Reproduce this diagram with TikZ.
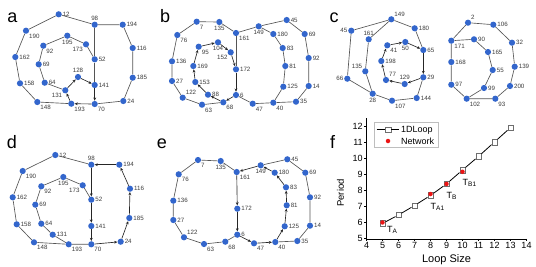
\documentclass[tikz,border=0pt]{standalone}
\usepackage{fontspec}
\setmainfont{Liberation Sans}
\usetikzlibrary{arrows.meta}
\definecolor{nodeblue}{RGB}{51,102,204}
\definecolor{edgegray}{RGB}{85,85,85}
\definecolor{lblgray}{RGB}{60,60,60}
\definecolor{netred}{RGB}{235,20,20}
\definecolor{mkgray}{RGB}{110,110,110}
\definecolor{legframe}{RGB}{190,190,190}
\tikzset{
  vtx/.style={circle, fill=nodeblue, minimum size=6.2pt, inner sep=0pt},
  every label/.style={font=\fontsize{6.2}{6.2}\selectfont, text=lblgray, inner sep=0.6pt},
  link/.style={color=edgegray, line width=0.65pt},
  flow/.style={-{Stealth[length=3.2pt,width=2.8pt]}, line width=0.65pt, color=black!85},
  panel/.style={font=\fontsize{18}{18}\selectfont, anchor=base west, inner sep=0pt},
  axisline/.style={line width=0.6pt, color=black},
  ticklbl/.style={font=\fontsize{9}{9}\selectfont, inner sep=1pt},
  sqmark/.style={rectangle, draw=mkgray, fill=white, minimum size=5.5pt,
    inner sep=0pt, line width=0.5pt},
  netdot/.style={circle, fill=netred, minimum size=4.5pt, inner sep=0pt},
  curve/.style={line width=0.8pt, color=black},
  tlab/.style={font=\fontsize{9}{9}\selectfont, anchor=west, inner sep=0pt},
  legtxt/.style={font=\fontsize{9}{9}\selectfont, anchor=west, inner sep=0pt}
}
\newcommand{\tsub}[1]{\raisebox{-0.8pt}{\fontsize{6.5}{6.5}\selectfont #1}}

\begin{document}
\begin{tikzpicture}[x=1pt, y=-1pt]
  \useasboundingbox (0,0) rectangle (536,266);

  % panel letters
  \node[panel] (pa) at (7.3,22.5)   {a};
  \node[panel] (pb) at (160,22.5)   {b};
  \node[panel] (pc) at (329.5,22.5) {c};
  \node[panel] (pd) at (6.7,148.5)  {d};
  \node[panel] (pe) at (156.7,148.5){e};
  \node[panel] (pf) at (330,148.5)  {f};

  % panel a
  \node[vtx, label={right:12}]        (a12)  at (58.7,14.3)  {};
  \node[vtx, label={above:98}]        (a98)  at (94.7,24.7)  {};
  \node[vtx, label={right:194}]       (a194) at (122.7,24.7) {};
  \node[vtx, label={below right:190}] (a190) at (26,30.7)    {};
  \node[vtx, label={right:162}]       (a162) at (15.3,57)    {};
  \node[vtx, label={right:158}]       (a158) at (20,83.3)    {};
  \node[vtx, label={below right:148}] (a148) at (37.3,102)   {};
  \node[vtx, label={below right:193}] (a193) at (71.3,103.7) {};
  \node[vtx, label={below right:70}]  (a70)  at (94.7,104)   {};
  \node[vtx, label={right:24}]        (a24)  at (123.3,101)  {};
  \node[vtx, label={right:185}]       (a185) at (132.7,77.7) {};
  \node[vtx, label={right:116}]       (a116) at (132.7,48)   {};
  \node[vtx, label={right:52}]        (a52)  at (94.7,59.3)  {};
  \node[vtx, label={right:141}]       (a141) at (94.7,85)    {};
  \node[vtx, label={below:195}]       (a195) at (67.3,35.7)  {};
  \node[vtx, label={below right:92}]  (a92)  at (43.3,45.7)  {};
  \node[vtx, label={below left:173}]  (a173) at (86,44.3)    {};
  \node[vtx, label={right:69}]        (a69)  at (38.7,64.3)  {};
  \node[vtx, label={right:64}]        (a64)  at (44.7,82.7)  {};
  \node[vtx, label={above:128}]       (a128) at (78,77)      {};
  \node[vtx, label={below left:131}]  (a131) at (65.3,90.3)  {};
  \draw[link] (a70) -- (a24) -- (a185) -- (a116) -- (a194) -- (a98) -- (a12)
    -- (a190) -- (a162) -- (a158) -- (a148) -- (a193);
  \draw[link] (a98) -- (a52) -- (a141);
  \draw[link] (a52) -- (a173) -- (a195) -- (a92) -- (a69) -- (a64) -- (a131);
  \draw[flow] (a131) -- (a128);
  \draw[flow] (a128) -- (a141);
  \draw[flow] (a141) -- (a70);
  \draw[flow] (a70) -- (a193);
  \draw[flow] (a193) -- (a131);

  % panel d
  \node[vtx, label={right:12}]        (d12)  at (55.3,155)   {};
  \node[vtx, label={above:98}]        (d98)  at (91.3,164.7) {};
  \node[vtx, label={right:194}]       (d194) at (119.3,164.7){};
  \node[vtx, label={below right:190}] (d190) at (22.7,171)   {};
  \node[vtx, label={right:162}]       (d162) at (12.7,197.3) {};
  \node[vtx, label={right:158}]       (d158) at (16.7,224.3) {};
  \node[vtx, label={below right:148}] (d148) at (34,242.3)   {};
  \node[vtx, label={below right:193}] (d193) at (68.7,244.3) {};
  \node[vtx, label={below right:70}]  (d70)  at (91.3,244.3) {};
  \node[vtx, label={right:24}]        (d24)  at (120.7,241.7){};
  \node[vtx, label={right:185}]       (d185) at (129.3,218)  {};
  \node[vtx, label={right:116}]       (d116) at (130,188.7)  {};
  \node[vtx, label={right:52}]        (d52)  at (91.3,199.7) {};
  \node[vtx, label={right:141}]       (d141) at (91.3,226)   {};
  \node[vtx, label={below:195}]       (d195) at (63.3,177)   {};
  \node[vtx, label={below right:92}]  (d92)  at (41.3,186.3) {};
  \node[vtx, label={below left:173}]  (d173) at (82.7,185.3) {};
  \node[vtx, label={right:69}]        (d69)  at (35.3,204.7) {};
  \node[vtx, label={right:64}]        (d64)  at (41.3,223.7) {};
  \node[vtx, label={right:131}]       (d131) at (52.7,234.7) {};
  \draw[link] (d98) -- (d12) -- (d190) -- (d162) -- (d158) -- (d148) -- (d193) -- (d70);
  \draw[link] (d52) -- (d173) -- (d195) -- (d92) -- (d69) -- (d64) -- (d131) -- (d193);
  \draw[flow] (d98) -- (d52);
  \draw[flow] (d52) -- (d141);
  \draw[flow] (d141) -- (d70);
  \draw[flow] (d70) -- (d24);
  \draw[flow] (d24) -- (d185);
  \draw[flow] (d185) -- (d116);
  \draw[flow] (d116) -- (d194);
  \draw[flow] (d194) -- (d98);

  % panel b
  \node[vtx, label={below right:7}]   (b7)   at (196.7,21.7) {};
  \node[vtx, label={below:135}]       (b135) at (219.3,22)   {};
  \node[vtx, label={below right:161}] (b161) at (236,33)     {};
  \node[vtx, label={below:149}]       (b149) at (258.7,26.3) {};
  \node[vtx, label={right:45}]        (b45)  at (286.7,20)   {};
  \node[vtx, label={right:180}]       (b180) at (273.3,34)   {};
  \node[vtx, label={right:69}]        (b69)  at (304.7,34)   {};
  \node[vtx, label={right:83}]        (b83)  at (282.7,48)   {};
  \node[vtx, label={right:92}]        (b92)  at (308.7,58)   {};
  \node[vtx, label={right:81}]        (b81)  at (285.3,66)   {};
  \node[vtx, label={right:125}]       (b125) at (283.3,86.7) {};
  \node[vtx, label={right:14}]        (b14)  at (308.7,86)   {};
  \node[vtx, label={right:35}]        (b35)  at (296,101.7)  {};
  \node[vtx, label={below right:40}]  (b40)  at (273.3,102.7){};
  \node[vtx, label={below right:47}]  (b47)  at (252.7,103.7){};
  \node[vtx, label={right:6}]         (b6)   at (236,95)     {};
  \node[vtx, label={below right:68}]  (b68)  at (223.3,102.3){};
  \node[vtx, label={below right:63}]  (b63)  at (202,104.7)  {};
  \node[vtx, label={above right:122}] (b122) at (182.7,97.7) {};
  \node[vtx, label={right:27}]        (b27)  at (172,81)     {};
  \node[vtx, label={right:136}]       (b136) at (172,61.3)   {};
  \node[vtx, label={below right:76}]  (b76)  at (177.3,35)   {};
  \node[vtx, label={right:172}]       (b172) at (236,69.3)   {};
  \node[vtx, label={below right:95}]  (b95)  at (198.7,46.7) {};
  \node[vtx, label={below:104}]       (b104) at (218,42.3)   {};
  \node[vtx, label={below left:152}]  (b152) at (230.7,52.3) {};
  \node[vtx, label={right:169}]       (b169) at (193.3,66)   {};
  \node[vtx, label={right:153}]       (b153) at (195.3,82)   {};
  \node[vtx, label={right:88}]        (b88)  at (208,94.7)   {};
  \draw[link] (b6) -- (b47) -- (b40) -- (b35) -- (b14) -- (b92) -- (b69) -- (b45)
    -- (b149) -- (b161) -- (b135) -- (b7) -- (b76) -- (b136) -- (b27) -- (b122)
    -- (b63) -- (b68);
  \draw[link] (b149) -- (b180) -- (b83) -- (b81) -- (b125) -- (b40);
  \draw[link] (b161) -- (b172);
  \draw[flow] (b172) -- (b6);
  \draw[flow] (b6) -- (b68);
  \draw[flow] (b68) -- (b88);
  \draw[flow] (b88) -- (b153);
  \draw[flow] (b153) -- (b169);
  \draw[flow] (b169) -- (b95);
  \draw[flow] (b95) -- (b104);
  \draw[flow] (b104) -- (b152);
  \draw[flow] (b152) -- (b172);

  % panel e
  \node[vtx, label={below right:7}]   (e7)   at (198,160)    {};
  \node[vtx, label={below:135}]       (e135) at (220.7,161)  {};
  \node[vtx, label={below right:161}] (e161) at (236.7,172)  {};
  \node[vtx, label={below:149}]       (e149) at (260.7,165.3){};
  \node[vtx, label={right:45}]        (e45)  at (287.3,159.3){};
  \node[vtx, label={right:180}]       (e180) at (274.7,172.7){};
  \node[vtx, label={right:69}]        (e69)  at (305.3,172.7){};
  \node[vtx, label={right:83}]        (e83)  at (286,187.3)  {};
  \node[vtx, label={right:92}]        (e92)  at (310,197.3)  {};
  \node[vtx, label={right:81}]        (e81)  at (286.7,205.3){};
  \node[vtx, label={right:125}]       (e125) at (284.7,226.3){};
  \node[vtx, label={right:14}]        (e14)  at (310,225.7)  {};
  \node[vtx, label={right:35}]        (e35)  at (297.3,241)  {};
  \node[vtx, label={below right:40}]  (e40)  at (275.3,242)  {};
  \node[vtx, label={below right:47}]  (e47)  at (254,243.3)  {};
  \node[vtx, label={right:6}]         (e6)   at (237.3,234.7){};
  \node[vtx, label={below right:68}]  (e68)  at (225.3,241.7){};
  \node[vtx, label={below right:63}]  (e63)  at (204,244)    {};
  \node[vtx, label={above right:122}] (e122) at (184,237.3)  {};
  \node[vtx, label={right:27}]        (e27)  at (173.3,220)  {};
  \node[vtx, label={right:136}]       (e136) at (173.3,200.7){};
  \node[vtx, label={below right:76}]  (e76)  at (178.7,174.3){};
  \node[vtx, label={right:172}]       (e172) at (237.3,208.7){};
  \draw[link] (e161) -- (e135) -- (e7) -- (e76) -- (e136) -- (e27) -- (e122)
    -- (e63) -- (e68) -- (e6);
  \draw[link] (e149) -- (e45) -- (e69) -- (e92) -- (e14) -- (e35) -- (e40);
  \draw[flow] (e161) -- (e172);
  \draw[flow] (e172) -- (e6);
  \draw[flow] (e6) -- (e47);
  \draw[flow] (e47) -- (e40);
  \draw[flow] (e40) -- (e125);
  \draw[flow] (e125) -- (e81);
  \draw[flow] (e81) -- (e83);
  \draw[flow] (e83) -- (e180);
  \draw[flow] (e180) -- (e149);
  \draw[flow] (e149) -- (e161);

  % panel c
  \node[vtx, label={left:45}]         (c45)  at (351.3,30.7) {};
  \node[vtx, label={above right:149}] (c149) at (391.3,19.3) {};
  \node[vtx, label={right:180}]       (c180) at (414.7,28.3) {};
  \node[vtx, label={above:161}]       (c161) at (368.7,39.3) {};
  \node[vtx, label={right:65}]        (c65)  at (423.3,50)   {};
  \node[vtx, label={below right:41}]  (c41)  at (387.3,45.3) {};
  \node[vtx, label={below:50}]        (c50)  at (405.3,42)   {};
  \node[vtx, label={right:198}]       (c198) at (381.3,61)   {};
  \node[vtx, label={above left:135}]  (c135) at (365.3,71.3) {};
  \node[vtx, label={left:66}]         (c66)  at (347.3,78.7) {};
  \node[vtx, label={above right:77}]  (c77)  at (386,80)     {};
  \node[vtx, label={above:129}]       (c129) at (404.7,84)   {};
  \node[vtx, label={right:29}]        (c29)  at (423.3,77.3) {};
  \node[vtx, label={below:28}]        (c28)  at (372.7,93.7) {};
  \node[vtx, label={below right:107}] (c107) at (392,100.7)  {};
  \node[vtx, label={right:144}]       (c144) at (416.7,98)   {};
  \draw[link] (c65) -- (c180) -- (c149) -- (c45) -- (c66) -- (c28) -- (c107)
    -- (c144) -- (c29);
  \draw[link] (c149) -- (c161) -- (c135) -- (c28);
  \draw[flow] (c41) -- (c50);
  \draw[flow] (c50) -- (c65);
  \draw[flow] (c65) -- (c29);
  \draw[flow] (c29) -- (c129);
  \draw[flow] (c129) -- (c77);
  \draw[flow] (c77) -- (c198);
  \draw[flow] (c198) -- (c41);

  \node[vtx, label={above right:2}]   (c2)   at (468,22.7)   {};
  \node[vtx, label={right:106}]       (c106) at (493.3,24.7) {};
  \node[vtx, label={right:32}]        (c32)  at (512,42.7)   {};
  \node[vtx, label={right:139}]       (c139) at (514.7,66.7) {};
  \node[vtx, label={right:200}]       (c200) at (510,86)     {};
  \node[vtx, label={below right:93}]  (c93)  at (495.3,98.7) {};
  \node[vtx, label={below right:102}] (c102) at (466.7,98.7) {};
  \node[vtx, label={right:97}]        (c97)  at (451.3,84.7) {};
  \node[vtx, label={right:168}]       (c168) at (451.3,62)   {};
  \node[vtx, label={below right:171}] (c171) at (451.3,40.7) {};
  \node[vtx, label={right:90}]        (c90)  at (474,39.3)   {};
  \node[vtx, label={right:165}]       (c165) at (488,52)     {};
  \node[vtx, label={right:55}]        (c55)  at (492.7,70)   {};
  \node[vtx, label={right:99}]        (c99)  at (484,88)     {};
  \draw[link] (c2) -- (c106) -- (c32) -- (c139) -- (c200) -- (c93) -- (c102)
    -- (c97) -- (c168) -- (c171) -- (c2);
  \draw[link] (c171) -- (c90) -- (c165) -- (c55) -- (c99) -- (c102);

  % panel f
  \begin{scope}[shift={(302.5,318)}, x=16pt, y=16pt]
    \coordinate (ytop) at (4,12.5);
    \coordinate (orig) at (4,4.95);
    \coordinate (xend) at (14,4.95);
    \draw[axisline] (ytop) -- (orig) -- (xend);
    \foreach \Y in {5,...,12}
      \draw[axisline] (4,\Y) -- ++(-2.5pt,0pt) node[ticklbl, left] (ty\Y) {\Y};
    \foreach \X in {4,...,14}
      \draw[axisline] (\X,4.95) -- ++(0pt,-2.5pt) node[ticklbl, below] (tx\X) {\X};
    \node[sqmark] (s5)  at (5,5.91)  {};
    \node[sqmark] (s6)  at (6,6.44)  {};
    \node[sqmark] (s7)  at (7,7.03)  {};
    \node[sqmark] (s8)  at (8,7.66)  {};
    \node[sqmark] (s9)  at (9,8.38)  {};
    \node[sqmark] (s10) at (10,9.25) {};
    \node[sqmark] (s11) at (11,10.1) {};
    \node[sqmark] (s12) at (12,11.0) {};
    \node[sqmark] (s13) at (13,11.9) {};
    \draw[curve] (s5) -- (s6) -- (s7) -- (s8) -- (s9) -- (s10) -- (s11) -- (s12) -- (s13);
    \node[netdot] (n5)  at (5,5.97)  {};
    \node[netdot] (n8)  at (8,7.75)  {};
    \node[netdot] (n9)  at (9,8.38)  {};
    \node[netdot] (n10) at (10,9.14) {};
  \end{scope}
  \node[tlab] (ta)  at (387,229.5)   {T\tsub{A}};
  \node[tlab] (ta1) at (430.5,207)   {T\tsub{A1}};
  \node[tlab] (tb)  at (446.5,196)   {T\tsub{B}};
  \node[tlab] (tb1) at (462.5,182.5) {T\tsub{B1}};
  \node[font=\fontsize{11}{11}\selectfont] (xttl) at (446.5,260) {Loop Size};
  \node[font=\fontsize{9.5}{9.5}\selectfont, rotate=90] (yttl) at (340.5,193) {Period};

  % legend
  \draw[color=legframe, line width=0.5pt] (374.7,122.3) rectangle (438.7,147.7);
  \coordinate (lgl) at (376.7,129.7);
  \coordinate (lgr) at (399.3,129.7);
  \node[sqmark] (lgsq) at (388,129.7) {};
  \draw[curve] (lgl) -- (lgsq) -- (lgr);
  \node[legtxt] (lg1) at (401,129.9) {1DLoop};
  \node[netdot] (lgdot) at (388,141) {};
  \node[legtxt] (lg2) at (401,141.2) {Network};
\end{tikzpicture}
\end{document}
